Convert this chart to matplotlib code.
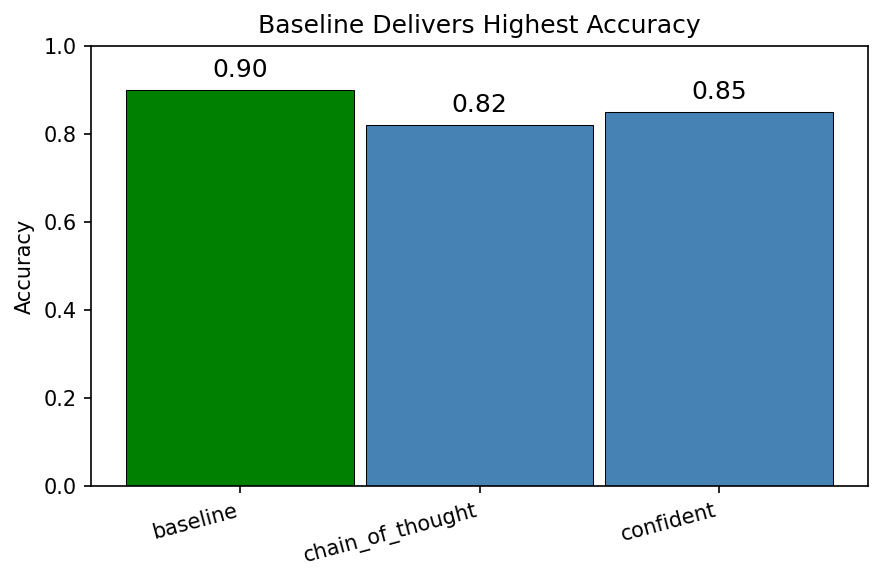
import matplotlib
matplotlib.use('Agg')
import matplotlib.pyplot as plt

labels = ['baseline', 'chain_of_thought', 'confident']
accuracy = [0.90, 0.82, 0.85]
colors = ['green', 'steelblue', 'steelblue']

fig = plt.figure(figsize=(884 / 150, 582 / 150), dpi=150)
ax = fig.add_axes([0.103, 0.165, 0.879, 0.756])

bars = ax.bar(labels, accuracy, width=0.95, color=colors, edgecolor='black', linewidth=0.5)
for b, v in zip(bars, accuracy):
    ax.annotate(f'{v:.2f}', (b.get_x() + b.get_width() / 2, v),
                xytext=(0, 4), textcoords='offset points',
                ha='center', va='bottom', fontsize=12)

ax.set_ylim(0, 1.0)
ax.set_ylabel('Accuracy')
ax.set_title('Baseline Delivers Highest Accuracy', fontsize=12)
plt.setp(ax.get_xticklabels(), rotation=15, ha='right')

fig.savefig('out.png', dpi=150)
